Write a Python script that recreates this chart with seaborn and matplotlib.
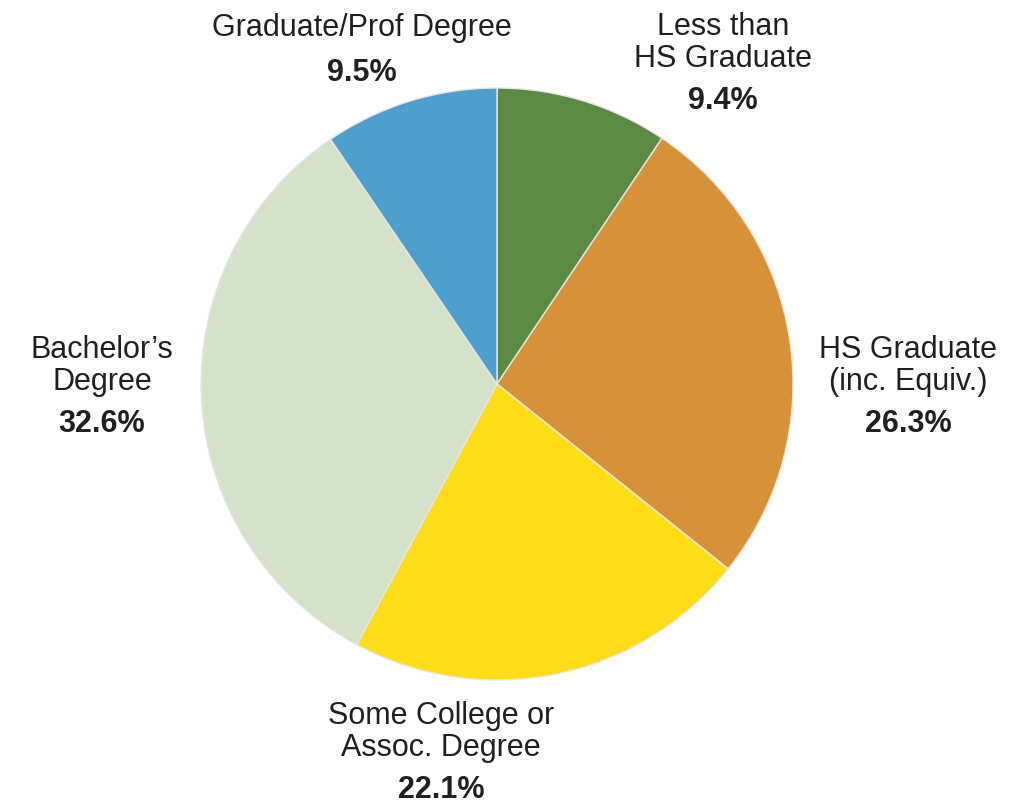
import matplotlib
matplotlib.use('Agg')
import matplotlib.pyplot as plt
import seaborn as sns

sns.set_theme(style='white')
plt.rcParams['font.family'] = ['Liberation Sans', 'DejaVu Sans']

labels = ['Less than\nHS Graduate', 'HS Graduate\n(inc. Equiv.)', 'Some College or\nAssoc. Degree',
          "Bachelor\u2019s\nDegree", 'Graduate/Prof Degree']
shares = [9.4, 26.3, 22.1, 32.6, 9.5]
colors = ['#5c8943', '#d79239', '#fddd17', '#d3e2c8', '#4e9fcd']

# label anchor positions in pixels (x, y of name block centre, y of percent)
label_pos = [(723, 43, 101), (908, 366, 424), (441, 732, 790), (102, 366, 424), (362, 28, 73)]

W, H = 1009, 804
fig = plt.figure(figsize=(W / 100, H / 100), dpi=100)
ax = fig.add_axes([0, 0, 1, 1])

ax.pie(shares, colors=colors, startangle=90, counterclock=False,
       center=(497, H - 385), radius=296,
       wedgeprops=dict(edgecolor='#e6e6e6', linewidth=1))

# pie() resets the limits, so set the pixel frame afterwards
ax.set_xlim(0, W)
ax.set_ylim(0, H)
ax.set_aspect('equal')
ax.axis('off')

for lab, val, (x, y1, y2) in zip(labels, shares, label_pos):
    ax.text(x, H - y1, lab, ha='center', va='center', fontsize=22,
            color='#231f20', linespacing=1.05)
    ax.text(x, H - y2, f'{val:.1f}%', ha='center', va='center', fontsize=22,
            fontweight='bold', color='#231f20')

fig.savefig('out.png', dpi=100)
